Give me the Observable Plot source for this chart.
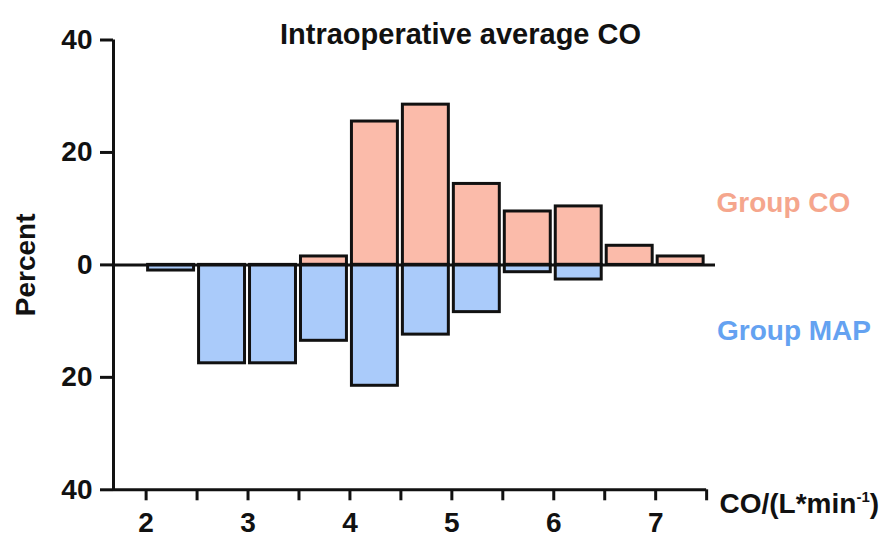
<!DOCTYPE html>
<html>
<head>
<meta charset="utf-8">
<script src="https://cdn.jsdelivr.net/npm/d3@7"></script>
<script src="https://cdn.jsdelivr.net/npm/@observablehq/plot@0.6"></script>
<style>
  html, body { margin: 0; padding: 0; background: #fff; }
  #chart svg { display: block; }
</style>
</head>
<body>
<div id="chart"></div>
<script>
// ---- data ----
const binStart = [2, 2.5, 3, 3.5, 4, 4.5, 5, 5.5, 6, 6.5, 7];
const binWidth = 0.5;
const groupCO  = [0, 0, 0, 1.5, 25.5, 28.5, 14.4, 9.5, 10.4, 3.4, 1.5];
const groupMAP = [1.0, 17.5, 17.5, 13.5, 21.5, 12.4, 8.4, 1.3, 2.6, 0, 0];
const yTicks = [-40, -20, 0, 20, 40];
const xTicks = [2, 2.5, 3, 3.5, 4, 4.5, 5, 5.5, 6, 6.5, 7, 7.5];
const xDomain = [1.68, 7.587];
const xAxisEnd = 7.5;
const titleText = "Intraoperative average CO";
const yLabel = "Percent";
const xLabelMain = "CO/(L*min";
const xLabelSup = "-1";
const xLabelEnd = ")";
const seriesNames = ["Group CO", "Group MAP"];

const colors = {
  coFill: "#FBBBAA", mapFill: "#AACBFA",
  coText: "#F5A68D", mapText: "#64A2F1", ink: "#111111"
};

const rows = [];
binStart.forEach((b, i) => {
  if (groupCO[i] > 0) rows.push({x1: b, x2: b + binWidth, y: groupCO[i], g: "CO"});
  if (groupMAP[i] > 0) rows.push({x1: b, x2: b + binWidth, y: -groupMAP[i], g: "MAP"});
});

const font = "'Liberation Sans', Arial, Helvetica, sans-serif";
const fs = 28;
const xLabelFull = xLabelMain + xLabelSup + xLabelEnd;

const chart = Plot.plot({
  width: 885,
  height: 536,
  marginTop: 39.5,
  marginBottom: 46.7,
  marginLeft: 113,
  marginRight: 170,
  x: {domain: xDomain},
  y: {domain: [-40, 40]},
  style: {fontFamily: font, fontWeight: "bold", fontSize: fs + "px", background: "#fff", color: colors.ink, overflow: "visible"},
  marks: [
    Plot.rectY(rows, {
      x1: "x1", x2: "x2", y: "y",
      fill: d => d.g === "CO" ? colors.coFill : colors.mapFill,
      stroke: colors.ink, strokeWidth: 3,
      insetLeft: 2, insetRight: 3
    }),
    Plot.ruleY([0], {stroke: colors.ink, strokeWidth: 3}),
    Plot.ruleX([xDomain[0]], {stroke: colors.ink, strokeWidth: 3}),
    Plot.ruleY([-40], {x1: xDomain[0], x2: xAxisEnd, stroke: colors.ink, strokeWidth: 3}),
    Plot.axisY(yTicks, {
      tickSize: 13, tickPadding: 8, strokeWidth: 3, stroke: colors.ink,
      tickFormat: d => Math.abs(d), fontSize: fs, fontWeight: "bold", fill: colors.ink, label: null
    }),
    Plot.axisX(xTicks, {
      tickSize: 11, tickPadding: 11, strokeWidth: 3, stroke: colors.ink,
      tickFormat: d => Number.isInteger(d) ? d : "", fontSize: fs, fontWeight: "bold", fill: colors.ink, label: null
    }),
    Plot.text([titleText], {frameAnchor: "top-left", dx: 347, dy: -17, textAnchor: "middle", fontSize: 29, fontWeight: "bold", fill: colors.ink}),
    Plot.text([yLabel], {frameAnchor: "left", dx: -87, rotate: -90, textAnchor: "middle", fontSize: fs, fontWeight: "bold", fill: colors.ink}),
    Plot.text([xLabelFull], {frameAnchor: "top-left", dx: 606, dy: 453, textAnchor: "start", fontSize: fs, fontWeight: "bold", fill: colors.ink}),
    Plot.text([seriesNames[0]], {frameAnchor: "top-left", dx: 603, dy: 152, textAnchor: "start", fontSize: fs, fontWeight: "bold", fill: colors.coText}),
    Plot.text([seriesNames[1]], {frameAnchor: "top-left", dx: 603.5, dy: 280.5, textAnchor: "start", fontSize: fs, fontWeight: "bold", fill: colors.mapText})
  ]
});

// turn the "-1" of the x label into a real superscript
const ns = "http://www.w3.org/2000/svg";
const xl = [...chart.querySelectorAll("text")].find(e => e.textContent === xLabelFull);
if (xl) {
  xl.textContent = xLabelMain;
  const sup = document.createElementNS(ns, "tspan");
  sup.setAttribute("font-size", "15");
  sup.setAttribute("dy", "-11");
  sup.textContent = xLabelSup;
  const end = document.createElementNS(ns, "tspan");
  end.setAttribute("font-size", fs);
  end.setAttribute("dy", "11");
  end.textContent = xLabelEnd;
  xl.appendChild(sup);
  xl.appendChild(end);
}
document.getElementById("chart").appendChild(chart);
</script>
</body>
</html>
